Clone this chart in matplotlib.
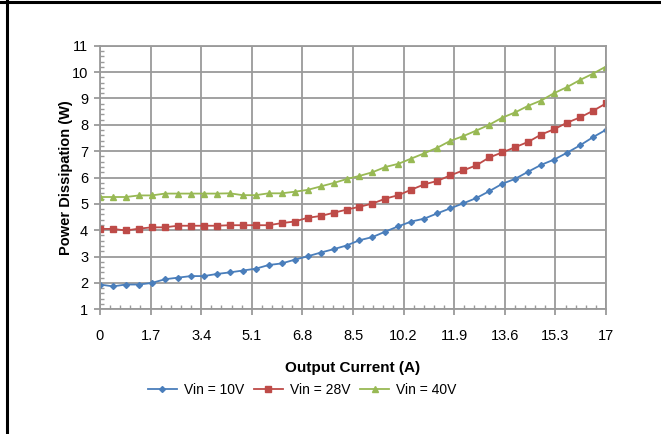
import numpy as np
import matplotlib
matplotlib.use("Agg")
import matplotlib.pyplot as plt
from matplotlib.lines import Line2D
from matplotlib.ticker import MultipleLocator

# output current (A), 40 points across 0..17
current = [0.0, 0.436, 0.872, 1.308, 1.744, 2.179, 2.615, 3.051, 3.487, 3.923,
           4.359, 4.795, 5.231, 5.667, 6.103, 6.538, 6.974, 7.41, 7.846, 8.282,
           8.718, 9.154, 9.59, 10.026, 10.462, 10.897, 11.333, 11.769, 12.205, 12.641,
           13.077, 13.513, 13.949, 14.385, 14.821, 15.256, 15.692, 16.128, 16.564, 17.0]

# power dissipation (W)
vin_10 = [1.94, 1.87, 1.94, 1.94, 2.00, 2.14, 2.20, 2.26, 2.26, 2.34,
          2.40, 2.47, 2.54, 2.68, 2.74, 2.88, 3.01, 3.15, 3.28, 3.42,
          3.62, 3.74, 3.95, 4.15, 4.33, 4.44, 4.64, 4.83, 5.02, 5.22,
          5.48, 5.76, 5.95, 6.22, 6.48, 6.68, 6.94, 7.22, 7.53, 7.81]
vin_28 = [4.05, 4.05, 3.99, 4.06, 4.11, 4.11, 4.17, 4.17, 4.17, 4.17,
          4.19, 4.19, 4.19, 4.19, 4.27, 4.33, 4.47, 4.54, 4.66, 4.78,
          4.89, 5.01, 5.20, 5.33, 5.54, 5.74, 5.87, 6.08, 6.27, 6.46,
          6.76, 6.95, 7.15, 7.35, 7.63, 7.83, 8.08, 8.28, 8.53, 8.81]
vin_40 = [5.26, 5.26, 5.26, 5.32, 5.32, 5.39, 5.39, 5.39, 5.39, 5.39,
          5.40, 5.33, 5.33, 5.40, 5.40, 5.46, 5.53, 5.66, 5.79, 5.94,
          6.06, 6.20, 6.40, 6.52, 6.72, 6.92, 7.13, 7.39, 7.57, 7.78,
          8.00, 8.27, 8.47, 8.72, 8.92, 9.20, 9.43, 9.70, 9.94, 10.21]

x_ticks = [0, 1.7, 3.4, 5.1, 6.8, 8.5, 10.2, 11.9, 13.6, 15.3, 17]
x_labels = ["0", "1.7", "3.4", "5.1", "6.8", "8.5", "10.2", "11.9", "13.6", "15.3", "17"]
y_ticks = list(range(1, 12))

font = ["Liberation Sans", "DejaVu Sans"]
grid_c = "#9a9a9a"

fig = plt.figure(figsize=(6.61, 4.34), dpi=100)
ax = fig.add_axes([100 / 661, 1 - 309.3 / 434, 506 / 661, (309.3 - 45.7) / 434])

ax.plot(current, vin_10, color="#4a7ebb", lw=1.3, marker="D", ms=3, label="Vin = 10V")
ax.plot(current, vin_28, color="#be4b48", lw=1.3, marker="s", ms=3.8, label="Vin = 28V")
ax.plot(current, vin_40, color="#98b954", lw=1.3, marker="^", ms=3.8, label="Vin = 40V")

ax.set_xlim(0, 17)
ax.set_ylim(1, 11)
ax.set_xticks(x_ticks)
ax.set_xticklabels(x_labels)
ax.set_yticks(y_ticks)
ax.xaxis.set_minor_locator(MultipleLocator(0.34))
ax.yaxis.set_minor_locator(MultipleLocator(0.2))
ax.grid(True, which="major", color=grid_c, lw=1.3)
ax.set_axisbelow(True)
for s in ax.spines.values():
    s.set_color(grid_c)
    s.set_linewidth(1.3)
ax.tick_params(which="major", direction="out", length=4.5, width=1.3, color=grid_c)
ax.tick_params(which="minor", direction="in", length=3, width=1, color=grid_c)
ax.tick_params(axis="x", which="major", pad=10)
ax.tick_params(axis="y", which="major", pad=4)
for lab in ax.get_xticklabels() + ax.get_yticklabels():
    lab.set_family(font)
    lab.set_fontsize(10.5)

ax.set_xlabel("Output Current (A)", family=font, fontsize=11, fontweight="bold", labelpad=13)
fig.text(66 / 661, 1 - 178 / 434, "Power Dissipation (W)", rotation=90, ha="center", va="center",
         family=font, fontsize=10.5, fontweight="bold")

leg = fig.legend(loc="center", bbox_to_anchor=(302 / 661, 1 - 390 / 434), ncol=3, frameon=False,
                 prop={"family": font, "size": 10}, handlelength=2.1, columnspacing=0.7,
                 handletextpad=0.5, borderaxespad=0)

# black frame on the left and top edges
fig.add_artist(Line2D([6.5 / 661, 6.5 / 661], [0, 1], color="black", lw=2.2, transform=fig.transFigure))
fig.add_artist(Line2D([0, 1], [1 - 1.5 / 434, 1 - 1.5 / 434], color="black", lw=2.2, transform=fig.transFigure))

fig.savefig("out.png", dpi=100)
